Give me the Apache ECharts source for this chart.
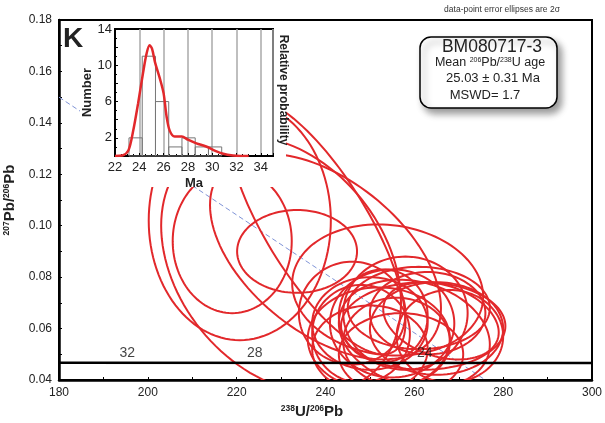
<!DOCTYPE html>
<html>
<head>
<meta charset="utf-8">
<title>BM080717-3 Tera-Wasserburg</title>
<script src="https://cdn.jsdelivr.net/npm/echarts@6/dist/echarts.min.js"></script>
<style>html,body{margin:0;padding:0;background:#fff}</style>
</head>
<body>
<div id="main" style="width:605px;height:423px;"></div>
<script>
// 2-sigma error ellipses: 238U/206Pb, 207Pb/206Pb, half widths, correlation
var ellX   = [220.7, 219.0, 233.6, 254.0, 238.0, 240.0, 230.0,
              250.0, 252.0, 258.0, 262.0, 265.0, 256.0, 260.0, 248.0, 263.0,
              255.0, 268.0, 257.0, 261.0, 253.0, 266.0, 250.0, 246.0];
var ellY   = [0.102, 0.094, 0.090, 0.075, 0.100, 0.088, 0.085,
              0.062, 0.056, 0.066, 0.061, 0.060, 0.055, 0.058, 0.058, 0.066,
              0.062, 0.057, 0.050, 0.068, 0.065, 0.063, 0.052, 0.066];
var ellSx  = [20.5, 13.4, 13.5, 21.5, 20.0, 26.0, 27.0,
              13.0, 16.0, 14.0, 18.5, 15.0, 12.0, 17.0, 11.0, 13.0,
              14.0, 12.0, 14.0, 16.0, 10.0, 13.0, 13.0, 12.0];
var ellSy  = [0.0465, 0.028, 0.0161, 0.0255, 0.050, 0.040, 0.050,
              0.018, 0.020, 0.022, 0.017, 0.018, 0.017, 0.021, 0.019, 0.016,
              0.021, 0.018, 0.016, 0.016, 0.018, 0.015, 0.017, 0.020];
var ellRho = [0, 0, 0, -0.1, -0.75, -0.5, -0.3,
              0, 0, 0, 0, 0, 0, -0.2, 0, 0,
              0, 0, 0, 0, 0, -0.3, 0, 0];

// concordia and its age ticks
var concLine  = [[180, 0.0467], [300, 0.0466]];
var concAge   = ['32', '28', '24'];
var concX     = [201.0, 229.7, 268.0];
var concY     = 0.0467;
// reference line
var refLine   = [[180, 0.150], [276, 0.040]];

// inset histogram of 206Pb/238U ages (Ma)
var binLo  = [23.15, 24.24, 25.33, 26.42, 27.51, 28.60, 29.69];
var binHi  = [24.24, 25.33, 26.42, 27.51, 28.60, 29.69, 30.78];
var counts = [2, 11, 6, 1, 2, 1, 1];
// relative probability curve
var probX = [22.0, 22.6, 23.1, 23.5, 23.9, 24.3, 24.6, 24.85, 25.05, 25.3, 25.7, 26.0, 26.25, 26.5, 26.9, 27.5, 28.0, 28.7, 29.5, 30.2, 30.9, 31.7, 32.3, 33.0];
var probY = [0, 0.05, 0.6, 2.8, 5.8, 9.1, 11.3, 12.2, 11.8, 10.3, 8.5, 6.9, 4.3, 2.8, 2.15, 2.15, 1.8, 1.4, 1.05, 0.6, 0.25, 0.05, 0, 0];

var FONT = '"Liberation Sans", Arial, sans-serif';
var RED = '#e2282b';

var ellData = ellX.map(function (x, i) { return [x, ellY[i], ellSx[i], ellSy[i], ellRho[i]]; });
var binData = binLo.map(function (lo, i) { return [lo, binHi[i], counts[i]]; });
var probData = probX.map(function (x, i) { return [x, probY[i]]; });
var concData = concX.map(function (x, i) { return { value: [x, concY], name: concAge[i] }; });

function renderEllipse(params, api) {
  var cx = api.value(0), cy = api.value(1), sx = api.value(2), sy = api.value(3), rho = api.value(4);
  var s = Math.sqrt(1 - rho * rho);
  var pts = [];
  for (var i = 0; i < 120; i++) {
    var t = i / 120 * 2 * Math.PI;
    pts.push(api.coord([cx + sx * Math.cos(t), cy + sy * (rho * Math.cos(t) + s * Math.sin(t))]));
  }
  return {
    type: 'polygon', shape: { points: pts },
    style: { fill: 'none', stroke: RED, lineWidth: 2 }
  };
}

function renderBin(params, api) {
  var p0 = api.coord([api.value(0), 0]);
  var p1 = api.coord([api.value(1), api.value(2)]);
  return {
    type: 'rect',
    shape: { x: p0[0], y: p1[1], width: p1[0] - p0[0], height: p0[1] - p1[1] },
    style: { fill: 'none', stroke: '#777', lineWidth: 1 }
  };
}

var supRich = {
  b: { fontSize: 15, fontWeight: 'bold', fontFamily: FONT, color: '#222' },
  s: { fontSize: 8.5, fontWeight: 'bold', fontFamily: FONT, color: '#222', verticalAlign: 'top', padding: [0, 0, 7, 0] }
};

var myChart = echarts.init(document.getElementById('main'));
var option = {
  backgroundColor: '#fff',
  animation: false,
  grid: [
    { left: 59, right: 13, top: 20, bottom: 43, outerBoundsMode: 'none', containLabel: false,
      show: true, borderColor: '#000', borderWidth: 2 },
    { left: 115, right: 332, top: 29, bottom: 267, outerBoundsMode: 'none', containLabel: false,
      show: true, borderColor: '#000', borderWidth: 2, z: 55 }
  ],
  xAxis: [
    {
      type: 'value', gridIndex: 0, min: 180, max: 300, interval: 20,
      axisLine: { lineStyle: { color: '#000', width: 2.5 } },
      axisTick: { inside: true, length: 3, lineStyle: { color: '#000' } },
      minorTick: { show: true, splitNumber: 2, length: 3, lineStyle: { color: '#000' } },
      splitLine: { show: false },
      axisLabel: { color: '#222', fontSize: 12, fontFamily: FONT, margin: 7 },
      name: '{s|238}{b|U/}{s|206}{b|Pb}', nameLocation: 'middle', nameGap: 23,
      nameTextStyle: { rich: supRich, padding: [0, 27, 0, 0] }
    },
    {
      type: 'value', gridIndex: 1, min: 22, max: 35, interval: 2, z: 56,
      axisLine: { lineStyle: { color: '#000', width: 2 } },
      axisTick: { inside: true, length: 3, lineStyle: { color: '#000' } },
      minorTick: { show: true, splitNumber: 4, length: 2, lineStyle: { color: '#000' } },
      splitLine: { show: true, lineStyle: { color: '#aaa', width: 1.5 } },
      axisLabel: { color: '#222', fontSize: 13, fontFamily: FONT, margin: 5,
        formatter: function (v) { return v > 34 ? '' : v; } },
      name: 'Ma', nameLocation: 'middle', nameGap: 21,
      nameTextStyle: { fontSize: 13, fontWeight: 'bold', fontFamily: FONT, color: '#222' }
    }
  ],
  yAxis: [
    {
      type: 'value', gridIndex: 0, min: 0.04, max: 0.18, interval: 0.02,
      axisLine: { lineStyle: { color: '#000', width: 2.5 } },
      axisTick: { inside: true, length: 3, lineStyle: { color: '#000' } },
      minorTick: { show: true, splitNumber: 2, length: 3, lineStyle: { color: '#000' } },
      splitLine: { show: false },
      axisLabel: { color: '#222', fontSize: 12, fontFamily: FONT, margin: 7,
        formatter: function (v) { return v.toFixed(2); } },
      name: '{s|207}{b|Pb/}{s|206}{b|Pb}', nameLocation: 'middle', nameGap: 35,
      nameTextStyle: { rich: supRich }
    },
    {
      type: 'value', gridIndex: 1, min: 0, max: 14, interval: 2, z: 56,
      axisLine: { lineStyle: { color: '#000', width: 2 } },
      axisTick: { inside: true, length: 3, lineStyle: { color: '#000' } },
      minorTick: { show: true, splitNumber: 2, length: 2, lineStyle: { color: '#000' } },
      splitLine: { show: false },
      axisLabel: { color: '#222', fontSize: 13, fontFamily: FONT, margin: 3,
        formatter: function (v) { return (v - 2) % 4 === 0 ? v : ''; } },
      name: 'Number', nameLocation: 'middle', nameGap: 20,
      nameTextStyle: { fontSize: 13, fontWeight: 'bold', fontFamily: FONT, color: '#222' }
    }
  ],
  graphic: [
    { type: 'rect', z: 50, shape: { x: 80, y: 23, width: 206, height: 164 }, style: { fill: '#fff' } },
    { type: 'text', z: 60, x: 63, y: 39,
      style: { text: 'K', font: 'bold 28px ' + FONT, fill: '#222', textVerticalAlign: 'middle', verticalAlign: 'middle' } },
    { type: 'text', z: 60, x: 283, y: 90, rotation: -Math.PI / 2,
      style: { text: 'Relative probability', font: 'bold 12px ' + FONT, fill: '#222',
        textAlign: 'center', align: 'center', textVerticalAlign: 'middle', verticalAlign: 'middle' } },
    { type: 'text', z: 60, x: 502, y: 10,
      style: { text: 'data-point error ellipses are 2\u03c3', font: '8.5px ' + FONT, fill: '#333',
        textAlign: 'center', align: 'center', textVerticalAlign: 'middle', verticalAlign: 'middle' } },
    { type: 'rect', z: 70, shape: { x: 420, y: 37, width: 137, height: 71, r: 11 },
      style: { fill: '#fff', stroke: '#000', lineWidth: 1.5, shadowBlur: 7, shadowColor: 'rgba(0,0,0,0.4)', shadowOffsetX: 4, shadowOffsetY: 5 } },
    { type: 'text', z: 71, x: 492, y: 47,
      style: { text: 'BM080717-3', font: '17.5px ' + FONT, fill: '#222',
        textAlign: 'center', align: 'center', textVerticalAlign: 'middle', verticalAlign: 'middle' } },
    { type: 'text', z: 71, x: 490, y: 63,
      style: { text: '{a|Mean }{s|206}{a|Pb/}{s|238}{a|U age}', fill: '#222',
        rich: { a: { fontSize: 12.5, fontFamily: FONT, fill: '#222' },
                s: { fontSize: 7, fontFamily: FONT, fill: '#222', verticalAlign: 'top' } },
        textAlign: 'center', align: 'center', textVerticalAlign: 'middle', verticalAlign: 'middle' } },
    { type: 'text', z: 71, x: 493, y: 78,
      style: { text: '25.03 \u00b1 0.31 Ma', font: '13px ' + FONT, fill: '#222',
        textAlign: 'center', align: 'center', textVerticalAlign: 'middle', verticalAlign: 'middle' } },
    { type: 'text', z: 71, x: 485, y: 95,
      style: { text: 'MSWD= 1.7', font: '13px ' + FONT, fill: '#222',
        textAlign: 'center', align: 'center', textVerticalAlign: 'middle', verticalAlign: 'middle' } }
  ],
  series: [
    {
      type: 'line', xAxisIndex: 0, yAxisIndex: 0, data: refLine, symbol: 'none', z: 3,
      lineStyle: { color: '#7f93d6', width: 1, type: [5, 3] }
    },
    {
      type: 'custom', xAxisIndex: 0, yAxisIndex: 0, data: ellData, clip: true, z: 4,
      renderItem: renderEllipse, encode: { x: 0, y: 1 }
    },
    {
      type: 'line', xAxisIndex: 0, yAxisIndex: 0, data: concLine, symbol: 'none', z: 5,
      lineStyle: { color: '#000', width: 2.5 }
    },
    {
      type: 'scatter', xAxisIndex: 0, yAxisIndex: 0, data: concData, symbolSize: 0, z: 6,
      label: { show: true, position: 'inside', offset: [-25, -10], formatter: '{b}',
        color: '#111', fontSize: 14, fontFamily: FONT }
    },
    {
      type: 'custom', xAxisIndex: 1, yAxisIndex: 1, data: binData, z: 57,
      renderItem: renderBin, encode: { x: [0, 1], y: 2 }
    },
    {
      type: 'line', xAxisIndex: 1, yAxisIndex: 1, data: probData, symbol: 'none', smooth: 0.3, z: 58,
      lineStyle: { color: RED, width: 2.5 }
    }
  ]
};
myChart.setOption(option);
</script>
</body>
</html>
